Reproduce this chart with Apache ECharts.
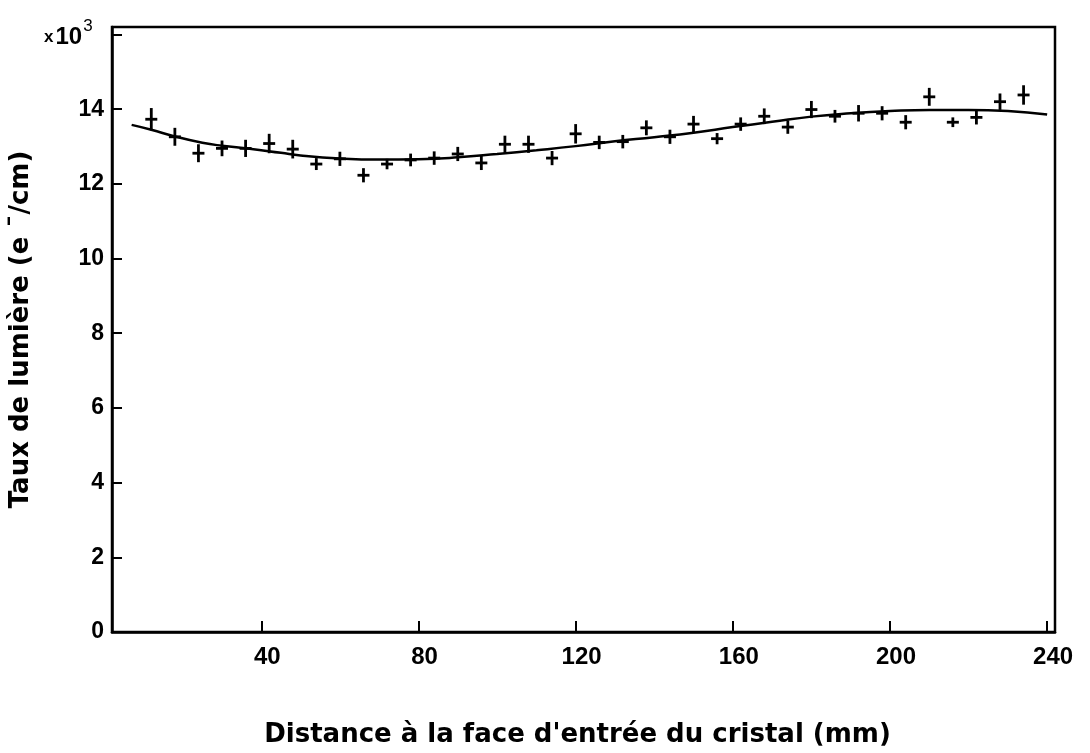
<!DOCTYPE html>
<html>
<head>
<meta charset="utf-8">
<script src="https://cdn.jsdelivr.net/npm/echarts@6/dist/echarts.min.js"></script>
<style>
html,body{margin:0;padding:0;background:#fff;}
#chart{width:1090px;height:753px;}
</style>
</head>
<body>
<div id="chart"></div>
<script>
// Measured points (distance in mm, light yield in 10^3 e-/cm, half error bar)
const distances = [12,18,24,30,36,42,48,54,60,66,72,78,84,90,96,102,108,114,120,126,132,138,144,150,156,162,168,174,180,186,192,198,204,210,216,222,228,234];
const yields = [13.73,13.26,12.82,12.95,12.95,13.08,12.93,12.53,12.67,12.23,12.53,12.64,12.69,12.80,12.56,13.06,13.06,12.69,13.34,13.11,13.13,13.50,13.26,13.60,13.21,13.60,13.81,13.52,13.99,13.81,13.89,13.89,13.65,14.33,13.65,13.78,14.20,14.38];
const errors = [0.30,0.24,0.24,0.21,0.23,0.26,0.25,0.16,0.19,0.19,0.14,0.17,0.18,0.19,0.19,0.23,0.23,0.19,0.26,0.18,0.18,0.20,0.19,0.22,0.15,0.18,0.21,0.18,0.23,0.17,0.22,0.19,0.19,0.24,0.13,0.19,0.22,0.26];
// Fitted curve
const fitX = [7,12,18,25,30,37,45,50,60,70,80,90,100,110,120,130,140,150,160,170,180,190,200,210,220,230,240];
const fitY = [13.58,13.45,13.27,13.10,13.02,12.94,12.83,12.76,12.68,12.65,12.66,12.71,12.80,12.90,13.01,13.14,13.25,13.37,13.52,13.66,13.80,13.89,13.95,13.98,13.98,13.95,13.86];
// Ticks
const xTicks = [40,80,120,160,200,240];
const yTicks = [0,2,4,6,8,10,12,14,16];
const yLabels = [0,2,4,6,8,10,12,14];

const pts = distances.map((d,i)=>[d, yields[i], errors[i]]);
const fit = fitX.map((d,i)=>[d, fitY[i]]);
const FONT = '"Liberation Sans", Arial, Helvetica, sans-serif';
const TFONT = '"DejaVu Sans", "Liberation Sans", sans-serif';

const chart = echarts.init(document.getElementById('chart'), null, {renderer:'canvas'});
chart.setOption({
  animation:false,
  backgroundColor:'#fff',
  grid:{left:109,right:35,top:27,bottom:101,show:true,borderColor:'#000',borderWidth:2.5,backgroundColor:'transparent'},
  xAxis:{
    type:'value',min:2,max:242,
    name:"Distance à la face d'entrée du cristal (mm)",
    nameLocation:'middle',nameGap:90,
    nameTextStyle:{fontFamily:TFONT,fontWeight:'bold',fontSize:26,color:'#000',padding:[0,12,0,0]},
    axisLine:{show:true,lineStyle:{color:'#000',width:2.5}},
    axisTick:{show:true,inside:true,length:11,lineStyle:{color:'#000',width:2},customValues:xTicks},
    axisLabel:{show:true,fontFamily:FONT,fontWeight:'bold',fontSize:24,color:'#000',margin:13,padding:[0,0,0,12],customValues:xTicks},
    splitLine:{show:false}
  },
  yAxis:{
    type:'value',min:0,max:16.2,
    name:'Taux de lumière (e ¯/cm)',
    nameLocation:'middle',nameGap:78,nameRotate:90,
    nameTextStyle:{fontFamily:TFONT,fontWeight:'bold',fontSize:26,color:'#000'},
    axisLine:{show:true,lineStyle:{color:'#000',width:2.5}},
    axisTick:{show:true,inside:true,length:10,lineStyle:{color:'#000',width:2},customValues:yTicks},
    axisLabel:{show:true,fontFamily:FONT,fontWeight:'bold',fontSize:23,color:'#000',margin:8,customValues:yLabels},
    splitLine:{show:false}
  },
  graphic:[{
    type:'text',left:44,top:18,
    style:{
      text:'{x|x}{n|10}{s|3}',
      rich:{
        x:{fontFamily:FONT,fontWeight:'bold',fontSize:17,fill:'#000',padding:[9,2,0,0]},
        n:{fontFamily:FONT,fontWeight:'bold',fontSize:24,fill:'#000',padding:[8,0,0,0]},
        s:{fontFamily:FONT,fontSize:17,fill:'#000',padding:[0,0,13,1]}
      }
    }
  }],
  series:[
    {
      type:'line',data:fit,smooth:true,showSymbol:false,
      lineStyle:{color:'#000',width:2.5},z:3
    },
    {
      type:'custom',data:pts,z:4,
      renderItem:function(params,api){
        const x=api.value(0),y=api.value(1),e=api.value(2);
        const c=api.coord([x,y]);
        const top=api.coord([x,y+e]);
        const bot=api.coord([x,y-e]);
        const hw=6;
        const st={stroke:'#000',lineWidth:2.8};
        return {type:'group',children:[
          {type:'line',shape:{x1:top[0],y1:top[1],x2:bot[0],y2:bot[1]},style:st},
          {type:'line',shape:{x1:c[0]-hw,y1:c[1],x2:c[0]+hw,y2:c[1]},style:st}
        ]};
      }
    }
  ]
});
</script>
</body>
</html>
